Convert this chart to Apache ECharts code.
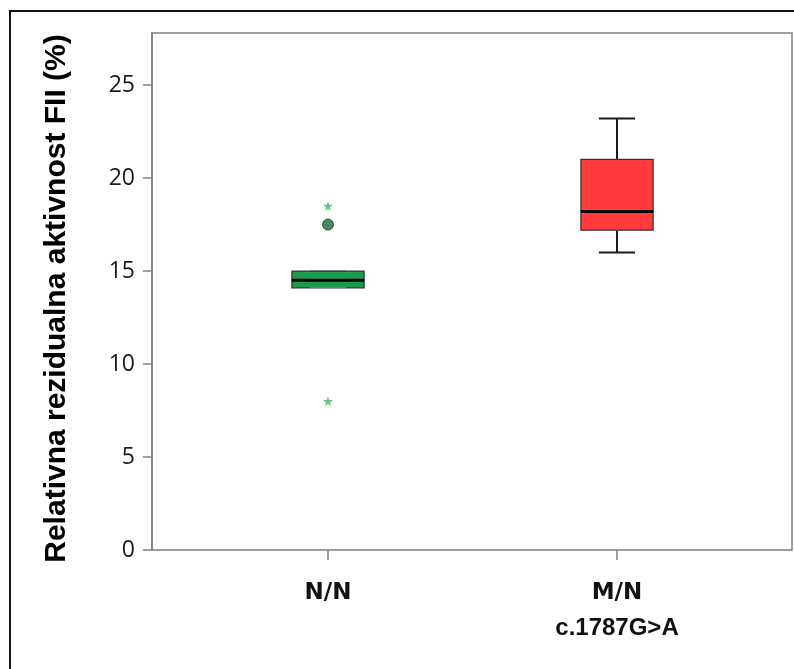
<!DOCTYPE html>
<html>
<head>
<meta charset="utf-8">
<script src="https://cdn.jsdelivr.net/npm/echarts@6/dist/echarts.min.js"></script>
<style>html,body{margin:0;padding:0;background:#fff;}#c{width:794px;height:669px;}</style>
</head>
<body>
<div id="c"></div>
<script>
var categories = ['N/N', 'M/N'];
var categorySubLabels = ['', 'c.1787G>A'];
// [categoryIndex, min, Q1, median, Q3, max]
var boxStats = [
  [0, 14.1, 14.1, 14.5, 15.0, 15.0],
  [1, 16.0, 17.2, 18.2, 21.0, 23.2]
];
var outlierCircles = [[0, 17.5]];
var outlierStars = [[0, 18.5], [0, 8.0]];
var yTicks = [0, 5, 10, 15, 20, 25];
var yMax = 27.8;
var yTitle = 'Relativna rezidualna aktivnost FII (%)';

var boxColors = ['#1F9A4B', '#FF3B3D'];
var starPath = 'path://M50,0 L61,35 L98,35 L68,57 L79,91 L50,70 L21,91 L32,57 L2,35 L39,35 Z';

var chart = echarts.init(document.getElementById('c'), null, {renderer: 'canvas'});

function renderBox(params, api) {
  var idx = api.value(0);
  var vmin = api.value(1), q1 = api.value(2), med = api.value(3), q3 = api.value(4), vmax = api.value(5);
  var band = api.size([1, 0])[0];
  var w = band * 0.25;
  var cx = api.coord([idx, med])[0];
  var yMin = api.coord([idx, vmin])[1];
  var yQ1 = api.coord([idx, q1])[1];
  var yMed = api.coord([idx, med])[1];
  var yQ3 = api.coord([idx, q3])[1];
  var yMaxP = api.coord([idx, vmax])[1];
  var cw = w / 2;
  var children = [];
  var lineStyle = {stroke: '#1a1a1a', lineWidth: 2};
  if (vmax > q3) {
    children.push({type: 'line', shape: {x1: cx, y1: yQ3, x2: cx, y2: yMaxP}, style: lineStyle});
  }
  children.push({type: 'line', shape: {x1: cx - cw / 2, y1: yMaxP, x2: cx + cw / 2, y2: yMaxP}, style: {stroke: vmax > q3 ? '#1a1a1a' : '#777', lineWidth: vmax > q3 ? 2 : 1}});
  if (vmin < q1) {
    children.push({type: 'line', shape: {x1: cx, y1: yQ1, x2: cx, y2: yMin}, style: lineStyle});
  }
  children.push({type: 'rect', shape: {x: cx - w / 2, y: yQ3, width: w, height: yQ1 - yQ3},
    style: {fill: boxColors[idx], stroke: '#333', lineWidth: 1.2}});
  children.push({type: 'line', shape: {x1: cx - cw / 2, y1: yMin, x2: cx + cw / 2, y2: yMin}, style: {stroke: vmin < q1 ? '#1a1a1a' : '#888', lineWidth: vmin < q1 ? 2 : 1}, z2: 5});
  children.push({type: 'line', shape: {x1: cx - w / 2, y1: yMed, x2: cx + w / 2, y2: yMed}, style: {stroke: '#000', lineWidth: 3}, z2: 10});
  return {type: 'group', children: children};
}

var fontMain = '"Liberation Sans Narrow", "Liberation Sans", Arial, sans-serif';

var option = {
  animation: false,
  backgroundColor: '#fff',
  graphic: [{
    type: 'rect', shape: {x: 10, y: 11, width: 800, height: 700},
    style: {fill: 'none', stroke: '#111', lineWidth: 2}, silent: true
  }],
  grid: [
    {left: 152, top: 33, right: 2, bottom: 119, show: true, borderColor: '#808080', borderWidth: 1.5, backgroundColor: 'transparent'},
    {left: 183.5, top: 33, right: 32.5, bottom: 119, show: false}
  ],
  xAxis: [
    {type: 'value', gridIndex: 0, min: 0, max: 1, show: false},
    {type: 'category', gridIndex: 1, data: categories,
      axisLine: {show: false},
      axisTick: {show: true, alignWithLabel: true, length: 10, lineStyle: {color: '#808080', width: 1.5}},
      axisLabel: {
        margin: 26,
        formatter: function (v, i) {
          var sub = categorySubLabels[i];
          return sub ? '{a|' + v + '}\n{b|' + sub + '}' : '{a|' + v + '}';
        },
        rich: {
          a: {fontFamily: '"DejaVu Sans", sans-serif', fontWeight: 'bold', fontSize: 23, color: '#111', lineHeight: 34},
          b: {fontFamily: fontMain, fontWeight: 'bold', fontSize: 24, color: '#111', lineHeight: 36}
        }
      },
      splitLine: {show: false}
    }
  ],
  yAxis: [
    {type: 'value', gridIndex: 0, min: 0, max: yMax, interval: 5,
      name: yTitle, nameLocation: 'middle', nameGap: 80,
      nameTextStyle: {fontFamily: fontMain, fontWeight: 'bold', fontSize: 30, color: '#000', padding: [0, 14, 0, 0]},
      axisLine: {show: true, lineStyle: {color: '#808080', width: 1.5}},
      axisTick: {show: true, length: 9, customValues: yTicks, lineStyle: {color: '#808080', width: 1.5}},
      axisLabel: {customValues: yTicks, margin: 17, fontFamily: '"Open Sans", sans-serif', fontSize: 23, color: '#1a1a1a'},
      splitLine: {show: false}
    },
    {type: 'value', gridIndex: 1, min: 0, max: yMax, show: false}
  ],
  series: [
    {type: 'custom', xAxisIndex: 1, yAxisIndex: 1, data: boxStats, renderItem: renderBox,
      encode: {x: 0, y: [1, 2, 3, 4, 5]}, z: 2},
    {type: 'scatter', xAxisIndex: 1, yAxisIndex: 1, data: outlierCircles, symbol: 'circle', symbolSize: 11,
      itemStyle: {color: '#1B6A38', borderColor: '#0f3d20', borderWidth: 1}, z: 3},
    {type: 'scatter', xAxisIndex: 1, yAxisIndex: 1, data: outlierStars, symbol: starPath, symbolSize: 10,
      itemStyle: {color: '#45B36E'}, z: 3}
  ]
};
chart.setOption(option);
</script>
</body>
</html>
